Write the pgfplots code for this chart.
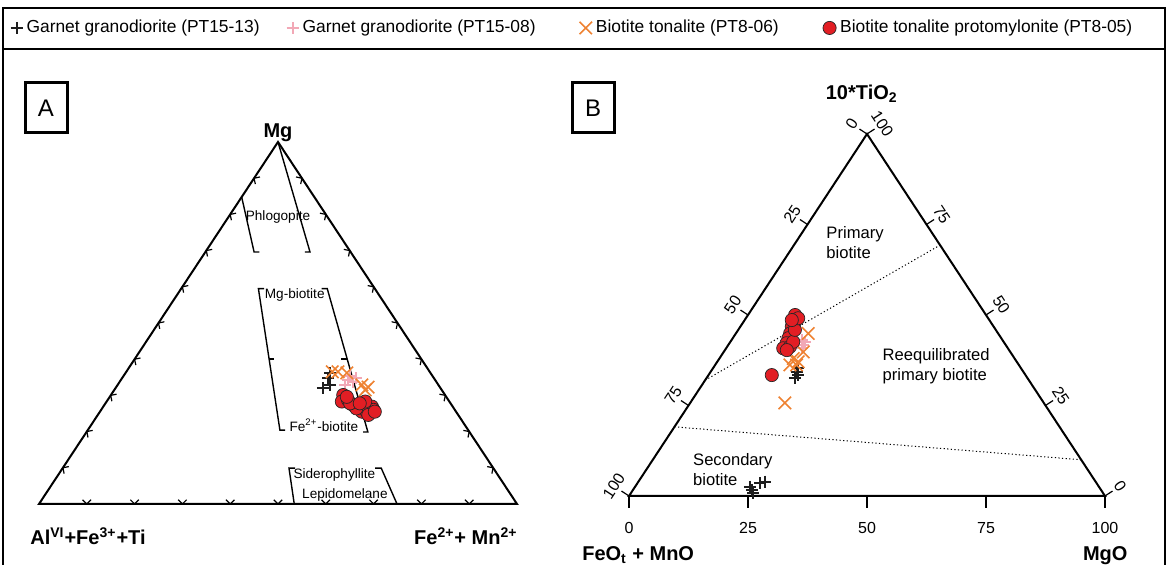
\documentclass[border=0pt]{standalone}
\usepackage{fontspec}
\setmainfont{Liberation Sans}
\usepackage{pgfplots}
\usepackage{pgfplotstable}
\pgfplotsset{compat=1.18}
\definecolor{cblack}{RGB}{30,30,30}
\definecolor{cpink}{RGB}{242,168,182}
\definecolor{corange}{RGB}{238,130,50}
\definecolor{cred}{RGB}{226,30,36}

% Panel A: Al(VI)+Fe3++Ti, Mg, Fe2++Mn2+ (percent)
\pgfplotstableread{
Al Mg Fe
21.0 36.2 42.8
24.6 32.0 43.4
22.7 32.9 44.4
22.1 34.8 43.1
}\Ablack
\pgfplotstableread{
Al Mg Fe
18.2 34.3 47.5
17.5 33.7 48.8
19.5 32.9 47.6
17.2 35.4 47.4
16.3 34.8 48.9
}\Apink
\pgfplotstableread{
Al Mg Fe
20.4 36.5 43.1
19.2 36.5 44.3
17.5 36.2 46.3
16.0 31.5 52.5
15.0 32.3 52.7
16.0 32.9 51.1
}\Aorange
\pgfplotstableread{
Al Mg Fe
21.3 30.1 48.6
22.5 28.3 49.2
21.0 28.7 50.3
20.6 27.3 52.1
19.7 26.9 53.4
19.0 26.4 54.6
17.8 27.3 54.9
16.9 26.9 56.2
17.0 26.0 57.0
19.7 25.5 54.8
18.7 25.5 55.8
20.4 26.4 53.2
21.0 27.8 51.2
20.8 29.6 49.6
18.8 24.6 56.6
17.0 25.5 57.5
17.6 28.3 54.1
19.0 27.8 53.2
}\Ared

% Panel B: FeOt+MnO, 10*TiO2, MgO (percent)
\pgfplotstableread{
FeO TiO MgO
47.6 34.3 18.1
47.7 33.4 18.9
48.9 32.5 18.6
46.8 35.3 17.9
73.3 1.7 25.0
73.3 2.6 24.1
70.7 3.5 25.8
69.4 4.0 26.6
73.6 0.7 25.7
}\Bblack
\pgfplotstableread{
FeO TiO MgO
42.2 43.1 14.7
42.5 41.7 15.8
43.3 40.8 15.9
41.7 42.6 15.7
}\Bpink
\pgfplotstableread{
FeO TiO MgO
39.9 44.9 15.2
46.5 38.0 15.5
45.9 37.1 17.0
48.1 36.2 15.7
46.7 36.2 17.1
43.5 39.8 16.7
54.4 25.7 19.9
}\Borange
\pgfplotstableread{
FeO TiO MgO
40.1 50.0 9.9
41.1 48.1 10.8
42.4 46.8 10.8
43.7 44.9 11.4
44.7 43.6 11.7
45.8 42.2 12.0
47.2 40.8 12.0
45.6 41.2 13.2
44.2 42.6 13.2
42.2 45.9 11.9
39.9 49.1 11.0
41.5 48.6 9.9
46.7 40.3 13.0
53.3 33.4 13.3
}\Bred

\pgfplotsset{
  sblack/.style={only marks, mark=+, mark size=3pt, color=cblack, line width=1pt},
  spink/.style={only marks, mark=+, mark size=3pt, color=cpink, line width=1pt},
  sorange/.style={only marks, mark=x, mark size=4.4pt, color=corange, line width=0.8pt},
  sred/.style={only marks, mark=*, mark size=3.3pt, draw=black!85, fill=cred, line width=0.35pt},
  tern/.style={scale only axis, xmin=0, xmax=100, ymin=0, ymax=100, hide axis, clip=false, anchor=south west},
}

\begin{document}
\begin{tikzpicture}[x=0.5pt,y=0.5pt]
\useasboundingbox (0,0) rectangle (1168,565);
\draw[line width=1pt] (3,0) -- (3,557) -- (1165,557) -- (1165,0);
\draw[line width=1pt] (3,516) -- (1165,516);
\draw[line width=1.5pt] (25,432) rectangle (67,482);
\node[font=\fontsize{12}{14}\selectfont] at (46,457) {A};
\draw[line width=1.5pt] (572,432) rectangle (614,482);
\node[font=\fontsize{12}{14}\selectfont] at (593,457) {B};

% ---------------- Panel A ----------------
\begin{axis}[tern, at={(19.5pt,30.5pt)}, width=239pt, height=181pt,
  legend columns=4,
  legend image code/.code={\draw[mark repeat=2,mark phase=2,#1] plot coordinates {(0cm,0cm) (0.13cm,0cm) (0.26cm,0cm)};},
  legend style={at={(1.118,1.315)}, anchor=center, draw=none, fill=none,
    font=\fontsize{8.7}{10}\selectfont,
    /tikz/every even column/.append style={column sep=12pt}},
  legend cell align=left]
\draw[line width=1pt] (axis cs:0,0) -- (axis cs:50,100) -- (axis cs:100,0) -- cycle;
\pgfplotsinvokeforeach{10,20,30,40,50,60,70,80,90}{
  \draw[line width=0.6pt] (axis cs:#1,0) ++(45:3pt) -- (axis cs:#1,0) -- ++(135:3pt);
  \draw[line width=0.6pt] (axis cs:{#1/2},#1) ++(11.6:3pt) -- (axis cs:{#1/2},#1) -- ++(-78.4:3pt);
  \draw[line width=0.6pt] (axis cs:{100-#1/2},#1) ++(168.4:3pt) -- (axis cs:{100-#1/2},#1) -- ++(258.4:3pt);
}
\draw[line width=0.7pt] (axis cs:42.4,84.8) -- (axis cs:45.0,69.6) -- (axis cs:46.1,69.6);
\draw[line width=0.7pt] (axis cs:50,100) -- (axis cs:56.7,69.6) -- (axis cs:55.6,69.6);
\draw[line width=0.7pt] (axis cs:47.1,59.5) -- (axis cs:45.9,59.5) -- (axis cs:50.4,20.4) -- (axis cs:51.5,20.4);
\draw[line width=0.7pt] (axis cs:48.1,40.1) -- (axis cs:49.2,40.1);
\draw[line width=0.7pt] (axis cs:59.1,59.5) -- (axis cs:60.3,59.5) -- (axis cs:68.8,19.9) -- (axis cs:67.8,19.9);
\draw[line width=0.7pt] (axis cs:64.4,40.1) -- (axis cs:63.2,40.1);
\draw[line width=0.7pt] (axis cs:53.4,0) -- (axis cs:52.3,9.9) -- (axis cs:53.6,9.9);
\draw[line width=0.7pt] (axis cs:74.9,0) -- (axis cs:71.6,9.9) -- (axis cs:70.3,9.9);
\begin{scope}[every node/.style={font=\fontsize{6.8}{8}\selectfont, inner sep=1pt}]
\node at (axis cs:50,79.4) {Phlogopite};
\node at (axis cs:53.5,57.7) {Mg-biotite};
\node at (axis cs:59.6,21.8) {Fe\textsuperscript{2+}-biotite};
\node at (axis cs:61.8,8.0) {Siderophyllite};
\node at (axis cs:64.0,2.5) {Lepidomelane};
\end{scope}
\node[anchor=base, font=\bfseries\fontsize{10}{12}\selectfont] at (axis cs:50,101.2) {Mg};
\node[anchor=base west, inner sep=0pt, font=\bfseries\fontsize{10}{12}\selectfont] at (axis cs:-1.9,-11.3) {Al\textsuperscript{VI}+Fe\textsuperscript{3+}+Ti};
\node[anchor=base east, inner sep=0pt, font=\bfseries\fontsize{10}{12}\selectfont] at (axis cs:100.2,-11.3) {Fe\textsuperscript{2+}+ Mn\textsuperscript{2+}};

\addplot[sblack] table[x expr=\thisrow{Fe}+0.5*\thisrow{Mg}, y expr=\thisrow{Mg}] {\Ablack};
\addlegendentry{\makebox[116pt][l]{Garnet granodiorite (PT15-13)}}
\addplot[spink] table[x expr=\thisrow{Fe}+0.5*\thisrow{Mg}, y expr=\thisrow{Mg}] {\Apink};
\addlegendentry{\makebox[124.5pt][l]{Garnet granodiorite (PT15-08)}}
\addplot[sorange] table[x expr=\thisrow{Fe}+0.5*\thisrow{Mg}, y expr=\thisrow{Mg}] {\Aorange};
\addlegendentry{\makebox[99.5pt][l]{Biotite tonalite (PT8-06)}}
\addplot[sred] table[x expr=\thisrow{Fe}+0.5*\thisrow{Mg}, y expr=\thisrow{Mg}] {\Ared};
\addlegendentry{Biotite tonalite protomylonite (PT8-05)}
\end{axis}

% ---------------- Panel B ----------------
\begin{axis}[tern, at={(314.5pt,34.5pt)}, width=238pt, height=181pt]
\draw[line width=1pt] (axis cs:0,0) -- (axis cs:50,100) -- (axis cs:100,0) -- cycle;
\draw[line width=0.5pt, dash pattern=on 0.6pt off 1.2pt] (axis cs:16.0,32.0) -- (axis cs:65.35,69.3);
\draw[line width=0.5pt, dash pattern=on 0.6pt off 1.2pt] (axis cs:9.55,19.1) -- (axis cs:95.0,10.0);
\begin{scope}[every node/.style={font=\fontsize{8}{9.6}\selectfont, inner sep=1.5pt}]
\pgfplotsinvokeforeach{0,25,50,75,100}{
  \draw[line width=0.6pt] (axis cs:#1,0) -- ++(0,-6pt);
  \node[anchor=base] at (axis cs:#1,-10.5) {#1};
}
\draw[line width=0.6pt] (axis cs:50,100) -- ++(146.7:4.5pt) node[rotate=56.7,anchor=south]{0};
\draw[line width=0.6pt] (axis cs:37.5,75) -- ++(146.7:4.5pt) node[rotate=56.7,anchor=south]{25};
\draw[line width=0.6pt] (axis cs:25,50) -- ++(146.7:4.5pt) node[rotate=56.7,anchor=south]{50};
\draw[line width=0.6pt] (axis cs:12.5,25) -- ++(146.7:4.5pt) node[rotate=56.7,anchor=south]{75};
\draw[line width=0.6pt] (axis cs:0,0) -- ++(146.7:4.5pt) node[rotate=56.7,anchor=south]{100};
\draw[line width=0.6pt] (axis cs:50,100) -- ++(33.3:4.5pt) node[rotate=-56.7,anchor=south]{100};
\draw[line width=0.6pt] (axis cs:62.5,75) -- ++(33.3:4.5pt) node[rotate=-56.7,anchor=south]{75};
\draw[line width=0.6pt] (axis cs:75,50) -- ++(33.3:4.5pt) node[rotate=-56.7,anchor=south]{50};
\draw[line width=0.6pt] (axis cs:87.5,25) -- ++(33.3:4.5pt) node[rotate=-56.7,anchor=south]{25};
\draw[line width=0.6pt] (axis cs:100,0) -- ++(33.3:4.5pt) node[rotate=-56.7,anchor=south]{0};
\end{scope}
\begin{scope}[every node/.style={font=\fontsize{8.3}{10}\selectfont, align=left, anchor=west, inner sep=0pt}]
\node at (axis cs:41.4,70.0) {Primary\\biotite};
\node at (axis cs:53.2,35.8) {Reequilibrated\\primary biotite};
\node at (axis cs:13.4,7.3) {Secondary\\biotite};
\end{scope}
\node[anchor=base, font=\bfseries\fontsize{10}{12}\selectfont] at (axis cs:48.9,109.4) {10*TiO\textsubscript{2}};
\node[anchor=base west, inner sep=0pt, font=\bfseries\fontsize{10}{12}\selectfont] at (axis cs:-9.9,-17.7) {FeO\textsubscript{t} + MnO};
\node[anchor=base east, inner sep=0pt, font=\bfseries\fontsize{10}{12}\selectfont] at (axis cs:104.8,-17.7) {MgO};

\addplot[sblack, forget plot] table[x expr=\thisrow{MgO}+0.5*\thisrow{TiO}, y expr=\thisrow{TiO}] {\Bblack};
\addplot[spink, forget plot] table[x expr=\thisrow{MgO}+0.5*\thisrow{TiO}, y expr=\thisrow{TiO}] {\Bpink};
\addplot[sorange, forget plot] table[x expr=\thisrow{MgO}+0.5*\thisrow{TiO}, y expr=\thisrow{TiO}] {\Borange};
\addplot[sred, forget plot] table[x expr=\thisrow{MgO}+0.5*\thisrow{TiO}, y expr=\thisrow{TiO}] {\Bred};
\end{axis}
\end{tikzpicture}
\end{document}
